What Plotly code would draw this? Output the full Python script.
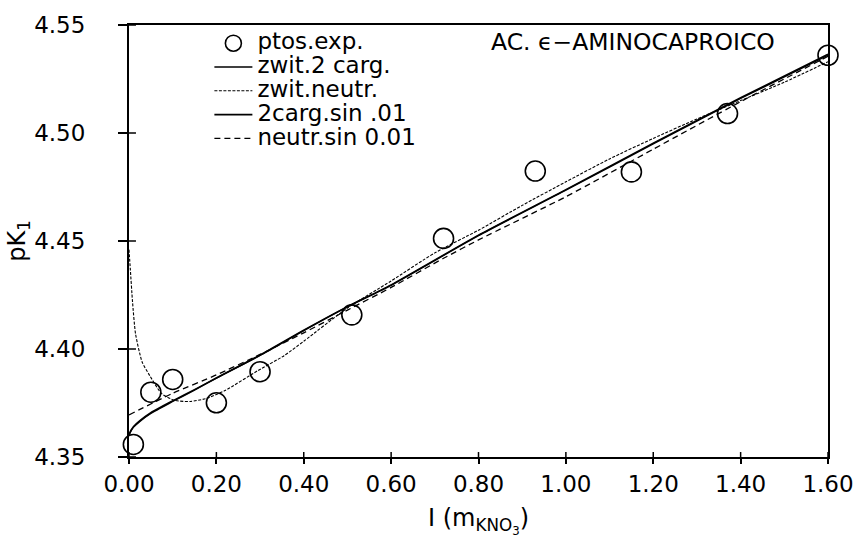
import plotly.graph_objects as go

# Experimental pK1 of 6-aminocaproic acid vs ionic strength (KNO3 molality)
I_exp = [0.01, 0.05, 0.10, 0.20, 0.30, 0.51, 0.72, 0.93, 1.15, 1.37, 1.60]
pK_exp = [4.3558, 4.3800, 4.3859, 4.3751, 4.3895, 4.4158, 4.4512, 4.4824, 4.4820, 4.5090, 4.5360]

# Fitted model curves
I_zwit2 = [0.0, 0.005, 0.01, 0.025, 0.05, 0.10, 0.15, 0.20, 0.30, 0.40, 0.50, 0.60, 0.80, 1.00, 1.20, 1.40, 1.60]
pK_zwit2 = [4.3600, 4.3622, 4.3637, 4.3665, 4.3702, 4.3757, 4.3810, 4.3865, 4.3970, 4.4085, 4.4195,
            4.4295, 4.4525, 4.4735, 4.4950, 4.5160, 4.5360]

I_neutr = [0.0, 0.003, 0.008, 0.015, 0.03, 0.045, 0.075, 0.105, 0.14, 0.175, 0.22, 0.295, 0.355,
           0.40, 0.50, 0.60, 0.70, 0.80, 0.90, 1.00, 1.10, 1.20, 1.30, 1.40, 1.50, 1.60]
pK_neutr = [4.4460, 4.4370, 4.4220, 4.4070, 4.3940, 4.3885, 4.3793, 4.3762, 4.3757, 4.3770, 4.3808,
            4.3900, 4.3969, 4.4036, 4.4190, 4.4315, 4.4445, 4.4550, 4.4665, 4.4774, 4.4880, 4.4975,
            4.5065, 4.5150, 4.5235, 4.5330]

I_2carg = [0.0, 0.005, 0.01, 0.025, 0.05, 0.10, 0.15, 0.20, 0.30, 0.40, 0.50, 0.60, 0.80, 1.00, 1.20, 1.40, 1.60]
pK_2carg = [4.3605, 4.3625, 4.3640, 4.3668, 4.3705, 4.3760, 4.3812, 4.3866, 4.3972, 4.4087, 4.4196,
            4.4297, 4.4527, 4.4738, 4.4953, 4.5163, 4.5365]

I_nsin = [0.0, 0.10, 0.20, 0.30, 0.40, 0.50, 0.60, 0.72, 0.80, 1.00, 1.20, 1.40, 1.60]
pK_nsin = [4.3695, 4.3795, 4.3880, 4.3975, 4.4075, 4.4180, 4.4285, 4.4420, 4.4505, 4.4705, 4.4925,
           4.5145, 4.5355]

x_ticks = [0.0, 0.2, 0.4, 0.6, 0.8, 1.0, 1.2, 1.4, 1.6]
x_ticklabels = ["0.00", "0.20", "0.40", "0.60", "0.80", "1.00", "1.20", "1.40", "1.60"]
y_ticks = [4.35, 4.40, 4.45, 4.50, 4.55]
y_ticklabels = ["4.35", "4.40", "4.45", "4.50", "4.55"]

X_RANGE = [0.0, 1.6]
Y_RANGE = [4.35, 4.55]

FONT = "DejaVu Sans"
INK = "black"

W, H = 866, 548
M_L, M_R, M_T, M_B = 129, 35, 22, 91
PLOT_W = W - M_L - M_R
PLOT_H = H - M_T - M_B


def leg(label):
    return "<span style='font-size:23px'>" + label + "</span>"


fig = go.Figure()

fig.add_trace(go.Scatter(x=I_zwit2, y=pK_zwit2, mode="lines", name=leg("zwit.2 carg."),
                         line=dict(color=INK, width=1.4, shape="spline", smoothing=0.6),
                         legendrank=2))
fig.add_trace(go.Scatter(x=I_neutr, y=pK_neutr, mode="lines", name=leg("zwit.neutr."),
                         line=dict(color=INK, width=1.1, dash="3px,1.5px", shape="spline", smoothing=0.6),
                         legendrank=3))
fig.add_trace(go.Scatter(x=I_2carg, y=pK_2carg, mode="lines", name=leg("2carg.sin .01"),
                         line=dict(color=INK, width=1.6, shape="spline", smoothing=0.6),
                         legendrank=4))
fig.add_trace(go.Scatter(x=I_nsin, y=pK_nsin, mode="lines", name=leg("neutr.sin 0.01"),
                         line=dict(color=INK, width=1.3, dash="6px,4px", shape="spline", smoothing=0.6),
                         legendrank=5))
fig.add_trace(go.Scatter(x=I_exp, y=pK_exp, mode="markers", name=leg("ptos.exp."),
                         marker=dict(symbol="circle-open", size=20, color=INK, line=dict(width=1.6)),
                         cliponaxis=False, legendrank=1))

axis_common = dict(showgrid=False, zeroline=False, showline=True, linecolor=INK, linewidth=2,
                   mirror=True, ticks="outside", tickcolor=INK, tickwidth=1.5,
                   tickfont=dict(family=FONT, size=23, color=INK))

fig.update_xaxes(range=X_RANGE, tickvals=x_ticks, ticktext=x_ticklabels, ticklen=5,
                 ticklabelstandoff=0,
                 title=dict(text="I (m<sub>KNO<sub>3</sub></sub>)",
                            font=dict(family=FONT, size=24, color=INK), standoff=14),
                 **axis_common)
fig.update_yaxes(range=Y_RANGE, tickvals=y_ticks, ticktext=y_ticklabels, ticklen=9,
                 ticklabelstandoff=28,
                 title=dict(text="pK<sub>1</sub>", font=dict(family=FONT, size=24, color=INK), standoff=2),
                 **axis_common)

# inner halves of the crossing tick marks (5 px up from the bottom axis, 7 px right of the left axis)
dy_in = (Y_RANGE[1] - Y_RANGE[0]) * 5 / PLOT_H
dx_in = (X_RANGE[1] - X_RANGE[0]) * 7 / PLOT_W
for tv in x_ticks:
    fig.add_shape(type="line", xref="x", yref="y", x0=tv, x1=tv,
                  y0=Y_RANGE[0], y1=Y_RANGE[0] + dy_in,
                  line=dict(color=INK, width=1.5))
for tv in y_ticks:
    fig.add_shape(type="line", xref="x", yref="y", y0=tv, y1=tv,
                  x0=X_RANGE[0], x1=X_RANGE[0] + dx_in,
                  line=dict(color=INK, width=1.5))

fig.add_annotation(text="AC. \u03f5\u2212AMINOCAPROICO", xref="paper", yref="paper",
                   x=0.515, y=0.96, xanchor="left", yanchor="middle", showarrow=False,
                   font=dict(family=FONT, size=23.5, color=INK))

fig.update_layout(
    width=W, height=H,
    margin=dict(l=M_L, r=M_R, t=M_T, b=M_B),
    paper_bgcolor="white", plot_bgcolor="white",
    font=dict(family=FONT, color=INK),
    showlegend=True,
    legend=dict(x=0.115, y=0.997, xanchor="left", yanchor="top", bgcolor="rgba(0,0,0,0)",
                borderwidth=0, itemwidth=38,
                font=dict(family=FONT, size=16, color=INK), tracegroupgap=0),
)

fig.write_html("out.html")
